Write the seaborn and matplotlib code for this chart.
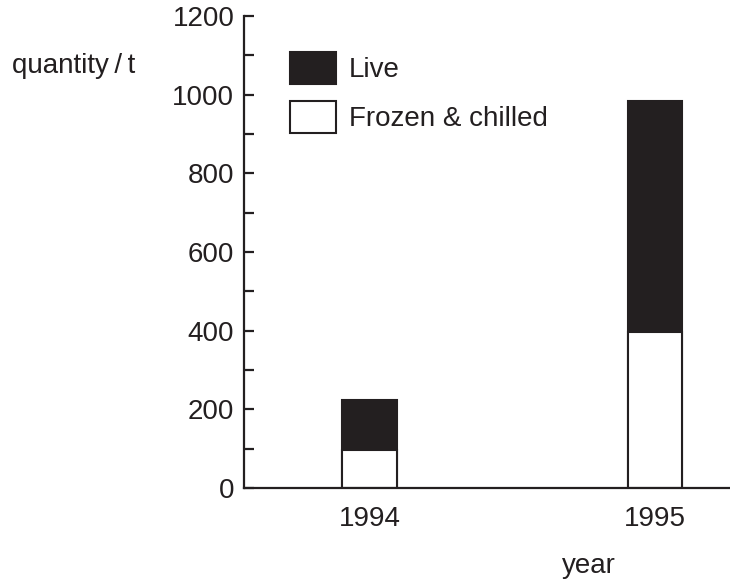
import matplotlib
matplotlib.use("Agg")
import matplotlib.pyplot as plt
from matplotlib.patches import Patch
from matplotlib.ticker import MultipleLocator
import seaborn as sns
import pandas as pd

years = ["1994", "1995"]
live = [127, 588]
frozen = [97, 397]
series_labels = ["Live", "Frozen & chilled"]
y_ticks = [0, 200, 400, 600, 800, 1000, 1200]

INK = "#231f20"

sns.set_theme(style="white")
plt.rcParams["font.family"] = ["Liberation Sans", "DejaVu Sans"]
plt.rcParams["text.color"] = INK

df = pd.DataFrame({
    "year": years,
    "total": [l + f for l, f in zip(live, frozen)],
    "frozen": frozen,
})

fig = plt.figure(figsize=(7.30, 5.79), dpi=100)
ax = fig.add_axes([244 / 730, (579 - 488) / 579, (730 - 244) / 730, 472 / 579])

sns.barplot(data=df, x="year", y="total", color=INK, width=0.19,
            edgecolor=INK, linewidth=1.5, saturation=1, ax=ax)
sns.barplot(data=df, x="year", y="frozen", color="white", width=0.19,
            edgecolor=INK, linewidth=1.5, saturation=1, ax=ax)

ax.set_xlim(-0.44, 1.263)
ax.set_ylim(0, 1200)
ax.set_xlabel("")
ax.set_ylabel("")

for s in ["top", "right"]:
    ax.spines[s].set_visible(False)
for s in ["left", "bottom"]:
    ax.spines[s].set_color(INK)
    ax.spines[s].set_linewidth(1.6)

ax.set_yticks(y_ticks)
ax.set_yticklabels([str(v) for v in y_ticks])
ax.yaxis.set_minor_locator(MultipleLocator(100))
ax.tick_params(axis="y", which="both", direction="in", length=7.5, width=1.6,
               color=INK, labelsize=20, labelcolor=INK, pad=7, left=True)
ax.tick_params(axis="x", length=0, labelsize=20, labelcolor=INK, pad=13)

ax.text((589 - 244) / (730 - 244), (488 - 573) / 472, "year",
        transform=ax.transAxes, ha="center", va="baseline", fontsize=20, color=INK)
fig.text(12 / 730, 1 - 73 / 579, "quantity\u2009/\u2009t", ha="left", va="baseline",
         fontsize=20, color=INK)

handles = [Patch(facecolor=INK, edgecolor=INK, linewidth=1.5),
           Patch(facecolor="white", edgecolor=INK, linewidth=1.5)]
leg = fig.legend(handles, series_labels, loc="upper left",
                 bbox_to_anchor=(290 / 730, 1 - 52 / 579), bbox_transform=fig.transFigure,
                 frameon=False, fontsize=20, handlelength=1.65, handleheight=1.4,
                 handletextpad=0.47, labelspacing=0.61, borderpad=0, borderaxespad=0)
for t in leg.get_texts():
    t.set_color(INK)

fig.savefig("out.png", dpi=100)
